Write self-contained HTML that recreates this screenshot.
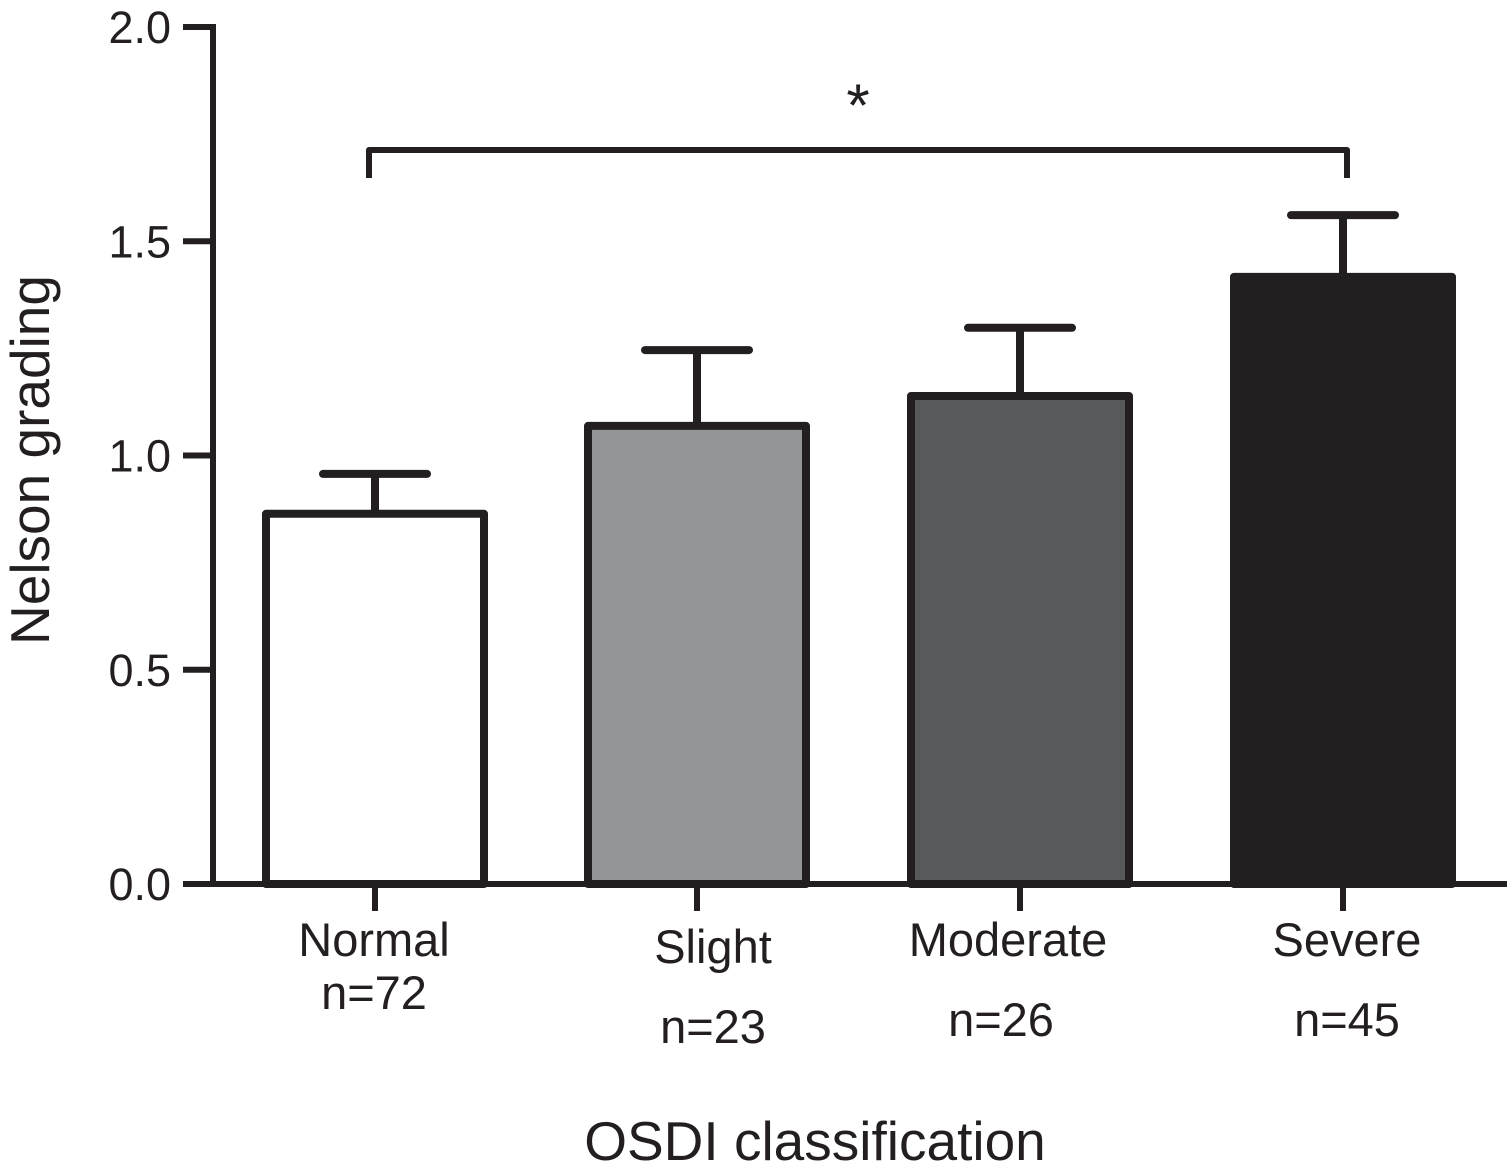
<!DOCTYPE html>
<html><head><meta charset="utf-8"><style>
html,body{margin:0;padding:0;background:#fff;}
svg text{font-family:"Liberation Sans",Arial,sans-serif;fill:#231f20;}
</style></head><body>
<svg id="chart" width="1510" height="1171" viewBox="0 0 1510 1171" xmlns="http://www.w3.org/2000/svg"></svg>
<script>
const categories = ["Normal","Slight","Moderate","Severe"];
const sampleLabels = ["n=72","n=23","n=26","n=45"];
const means = [0.864, 1.069, 1.139, 1.417];
const errors = [0.093, 0.177, 0.159, 0.144];
const yTicks = [0.0, 0.5, 1.0, 1.5, 2.0];
const tickLabels = ["0.0","0.5","1.0","1.5","2.0"];

const NS="http://www.w3.org/2000/svg";
const svg=document.getElementById('chart');
const fills=["#ffffff","#939598","#58595b","#231f20"];
const centers=[375,697,1020,1343];
const labelX=[374,713,1008,1347];
const nX=[374,713,1001,1347];
const labelY=[940,947,940,940];
const nY=[993,1027,1020,1020];
const y0=884, scale=428.5;
const y=v=>y0-v*scale;
function el(tag,attrs,parent){const e=document.createElementNS(NS,tag);for(const k in attrs)e.setAttribute(k,attrs[k]);(parent||svg).appendChild(e);return e;}
const stroke="#231f20";

categories.forEach((c,i)=>{
  const cx=centers[i], w=218;
  const top=y(means[i]), et=y(means[i]+errors[i]);
  const ln=el('line',{x1:cx,x2:cx,y1:top,y2:et,stroke:stroke,'stroke-width':8});
  
  
  const cap=el('line',{x1:cx-52,x2:cx+52,y1:et,y2:et,stroke:stroke,'stroke-width':8,'stroke-linecap':'round'});
  
  
  const r=el('rect',{x:cx-w/2,y:top,width:w,height:y0-top,fill:fills[i],stroke:stroke,'stroke-width':8,'stroke-linejoin':'round'});
  
  
  const t=el('line',{x1:cx,x2:cx,y1:y0,y2:911,stroke:stroke,'stroke-width':6});
  
  
  const lt=el('text',{x:labelX[i],y:labelY[i]+16,'font-size':47,'text-anchor':'middle'});
  lt.textContent=c;
  
  
  const nt=el('text',{x:nX[i],y:nY[i]+16,'font-size':47,'text-anchor':'middle'});
  nt.textContent=sampleLabels[i];
  
  
});

const xa=el('line',{x1:183,x2:1507,y1:y0,y2:y0,stroke:stroke,'stroke-width':6});


const ya=el('line',{x1:213,x2:213,y1:y(2)-3,y2:y0+3,stroke:stroke,'stroke-width':6});


yTicks.forEach((v,i)=>{
  const t=el('line',{x1:183,x2:213,y1:y(v),y2:y(v),stroke:stroke,'stroke-width':6});
  
  
  const tx=el('text',{x:171,y:y(v)+16,'font-size':45,'text-anchor':'end'});
  tx.textContent=tickLabels[i];
  
  
});

const br=el('path',{d:'M369 178 L369 150 L1347 150 L1347 178',fill:'none',stroke:stroke,'stroke-width':6,'stroke-linejoin':'round'});


const st=el('text',{x:858,y:126,'font-size':60,'text-anchor':'middle'});
st.textContent='*';



const xt=el('text',{x:815,y:1160,'font-size':55,'text-anchor':'middle'});
xt.textContent='OSDI classification';


const yt=el('text',{x:0,y:0,'font-size':55,'text-anchor':'middle',transform:'translate(49,460) rotate(-90)'});
yt.textContent='Nelson grading';


</script>
</body></html>
